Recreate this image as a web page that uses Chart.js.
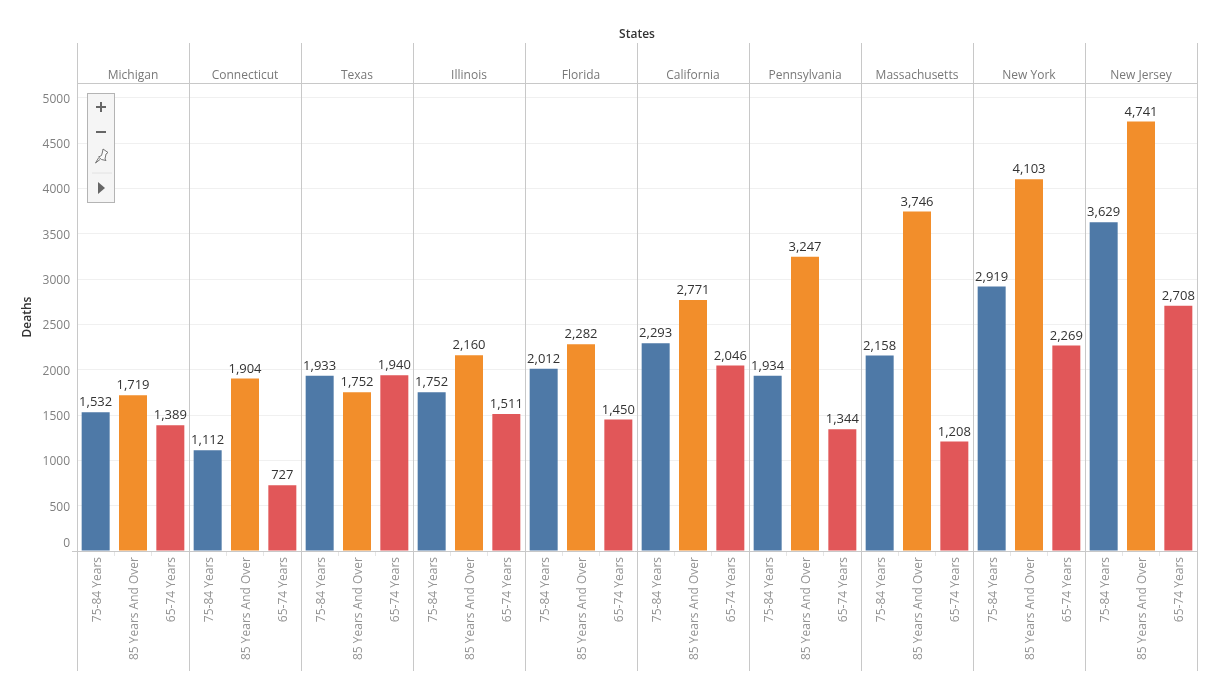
<!DOCTYPE html>
<html>
<head>
<meta charset="utf-8">
<title>Deaths by state and age</title>
<script src="https://cdn.jsdelivr.net/npm/chart.js@4"></script>
<style>
  html, body { margin: 0; padding: 0; background: #fff; }
  .wrap { position: relative; width: 1216px; height: 689px; overflow: hidden; }
  .tools {
    position: absolute; left: 87px; top: 93px; width: 26px; height: 108px;
    background: #f5f5f5; border: 1px solid #b4b4b4;
  }
  .tools svg { position: absolute; left: 0; top: 0; }
</style>
</head>
<body>
<div class="wrap">
  <canvas id="chart" width="1216" height="689"></canvas>
  <div class="tools">
    <svg width="26" height="108" viewBox="0 0 26 108">
      <path d="M8 13h10M13 8v10" stroke="#666" stroke-width="2" fill="none"/>
      <path d="M8 38h10" stroke="#666" stroke-width="2" fill="none"/>
      <path d="M15 55l5 3.500-2 1.500-1 5 1 1.500-4.500-1-3-2.500 3-1.500 1-3.500zM10.500 64l-3 5 4.500-3.500" stroke="#666" stroke-width="0.9" fill="#fafafa"/>
      <path d="M4 79h20" stroke="#e2e2e2" stroke-width="1"/>
      <path d="M10 88l7 6-7 6z" fill="#666"/>
    </svg>
  </div>
</div>
<script>
const states = ["Michigan", "Connecticut", "Texas", "Illinois", "Florida", "California", "Pennsylvania", "Massachusetts", "New York", "New Jersey"];
const ageGroups = ["75-84 Years", "85 Years And Over", "65-74 Years"];
const deaths75to84 = [1532, 1112, 1933, 1752, 2012, 2293, 1934, 2158, 2919, 3629];
const deaths85plus = [1719, 1904, 1752, 2160, 2282, 2771, 3247, 3746, 4103, 4741];
const deaths65to74 = [1389, 727, 1940, 1511, 1450, 2046, 1344, 1208, 2269, 2708];
const yTicks = [0, 500, 1000, 1500, 2000, 2500, 3000, 3500, 4000, 4500, 5000];
const ageColors = ["#4e79a7", "#f28e2b", "#e15759"];

const FONT = '"Open Sans", "Noto Sans", sans-serif';
const barLabels = states.flatMap(() => ageGroups);
const barValues = states.flatMap((s, i) => [deaths75to84[i], deaths85plus[i], deaths65to74[i]]);
const barColors = states.flatMap(() => ageColors);

// panel lines, header line, value labels and the "0" that sits above the axis
const panelPlugin = {
  id: "panels",
  afterDatasetsDraw(chart) {
    const { ctx, chartArea, scales } = chart;
    const x = scales.x, y = scales.y;
    const step = x.getPixelForValue(1) - x.getPixelForValue(0);

    ctx.save();
    ctx.strokeStyle = "#c8c8c8";
    ctx.lineWidth = 1;
    ctx.beginPath();
    for (let i = 0; i <= states.length; i++) {
      const px = Math.round(x.getPixelForValue(i * ageGroups.length) - step / 2) + 0.5;
      ctx.moveTo(px, 43);
      ctx.lineTo(px, 671);
    }
    ctx.moveTo(chartArea.left, Math.round(chartArea.top) + 0.5);
    ctx.lineTo(chartArea.right, Math.round(chartArea.top) + 0.5);
    const base = Math.round(y.getPixelForValue(0)) + 0.5;
    ctx.moveTo(chartArea.left - 5, base);
    ctx.lineTo(chartArea.right, base);
    ctx.stroke();

    ctx.font = "13px " + FONT;
    ctx.fillStyle = "#333";
    ctx.textAlign = "center";
    ctx.textBaseline = "bottom";
    chart.getDatasetMeta(0).data.forEach((bar, i) => {
      ctx.fillText(barValues[i].toLocaleString("en-US"), bar.x, bar.y - 3);
    });

    ctx.font = "12px " + FONT;
    ctx.fillStyle = "#808080";
    ctx.textAlign = "right";
    ctx.textBaseline = "middle";
    ctx.fillText("0", chartArea.left - 7, y.getPixelForValue(0) - 7);
    ctx.restore();
  },
};

new Chart(document.getElementById("chart"), {
  type: "bar",
  data: {
    labels: barLabels,
    datasets: [{
      data: barValues,
      backgroundColor: barColors,
      barPercentage: 0.75,
      categoryPercentage: 1,
    }],
  },
  options: {
    responsive: false,
    animation: false,
    layout: { padding: { left: 0, right: 19, top: 0, bottom: 0 } },
    plugins: { legend: { display: false }, tooltip: { enabled: false } },
    scales: {
      x: {
        position: "bottom",
        offset: true,
        afterFit(scale) { scale.height = 138; },
        border: { display: false },
        grid: { drawOnChartArea: false, color: "#e6e6e6", tickLength: 5 },
        ticks: {
          autoSkip: false,
          minRotation: 90,
          maxRotation: 90,
          padding: 1,
          labelOffset: 1.5,
          color: "#949494",
          font: { family: FONT, size: 12 },
        },
      },
      states: {
        type: "category",
        labels: states,
        position: "top",
        offset: true,
        afterFit(scale) { scale.height = 83; },
        border: { display: false },
        grid: { display: false, drawTicks: false },
        ticks: {
          autoSkip: false,
          maxRotation: 0,
          padding: 0,
          color: "#787878",
          font: { family: FONT, size: 12 },
        },
        title: {
          display: true,
          text: "States",
          color: "#333",
          padding: { top: 27, bottom: 0 },
          font: { family: FONT, size: 12, weight: "600" },
        },
      },
      y: {
        min: 0,
        max: 5165,
        afterFit(scale) { scale.width = 77; },
        afterBuildTicks(scale) { scale.ticks = yTicks.map((value) => ({ value })); },
        border: { display: false },
        grid: { color: "#f0f0f0", drawTicks: false },
        ticks: {
          padding: 7,
          labelOffset: 1.5,
          color: "#808080",
          font: { family: FONT, size: 12 },
          callback: (v) => (v === 0 ? "" : String(v)),
        },
        title: {
          display: true,
          text: "Deaths",
          color: "#333",
          padding: { top: 20, bottom: 0 },
          font: { family: FONT, size: 12, weight: "600" },
        },
      },
    },
  },
  plugins: [panelPlugin],
});
</script>
</body>
</html>
